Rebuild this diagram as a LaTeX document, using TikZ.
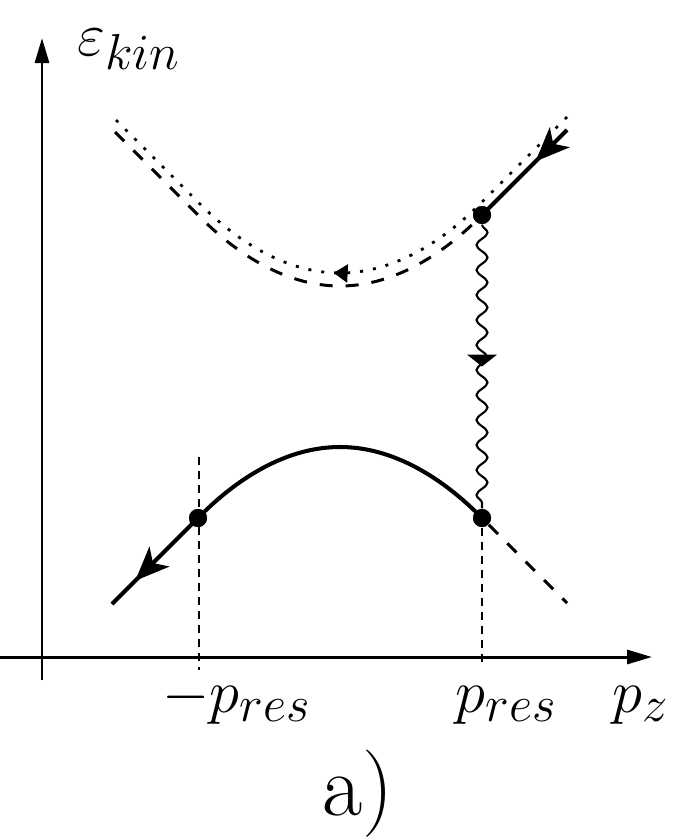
\documentclass[tikz,border=0pt]{standalone}
\DeclareMathSizes{17.28}{17.28}{14.4}{10}
\usetikzlibrary{arrows.meta,decorations.pathmorphing,decorations.markings}
\begin{document}
\begin{tikzpicture}[
  x=1cm,
  y=-1cm,
  axis/.style={line width=0.85pt, -{Triangle[length=0.25cm, width=0.14cm]}},
  band/.style={line width=1.15pt},
  shifted/.style={line width=0.85pt, dash pattern=on 0.13cm off 0.13cm},
  virtual/.style={line width=0.8pt, dash pattern=on 0.03cm off 0.10cm},
  guide/.style={line width=0.4pt, dash pattern=on 0.08cm off 0.06cm},
  photon/.style={line width=0.6pt, decorate, decoration={snake, amplitude=0.055cm, segment length=0.25cm}},
  vertex/.style={circle, fill=black, inner sep=0pt, minimum size=0.18cm},
  flow/.style={postaction={decorate}, decoration={markings, mark=at position #1 with {\arrow{Stealth[length=0.34cm, width=0.28cm, inset=0.09cm]}}}},
  smallflow/.style={postaction={decorate}, decoration={markings, mark=at position #1 with {\arrow{Triangle[length=0.14cm, width=0.18cm]}}}},
  wideflow/.style={postaction={decorate}, decoration={markings, mark=at position #1 with {\arrow{Triangle[length=0.12cm, width=0.30cm]}}}},
  lab/.style={anchor=base west, inner sep=0pt, font=\LARGE}
]
\useasboundingbox (0,0) rectangle (6.99,8.40);

\coordinate (ybot) at (0.42,6.80);
\coordinate (ytop) at (0.42,0.38);
\coordinate (xleft) at (0,6.57);
\coordinate (xright) at (6.52,6.57);
\draw[axis] (ybot) -- (ytop);
\draw[axis] (xleft) -- (xright);

\coordinate (ue) at (5.67,1.30);
\coordinate (us) at (1.15,1.32);
\coordinate (le) at (1.12,6.04);
\coordinate (re) at (5.67,6.03);
\coordinate (gtop) at (1.99,4.57);
\coordinate (gbot) at (1.99,6.70);
\coordinate (gend) at (4.82,6.65);
\node[vertex] (pu) at (4.82,2.15) {};
\node[vertex] (pl) at (1.98,5.18) {};
\node[vertex] (pr) at (4.82,5.18) {};

\draw[guide] (gtop) -- (gbot);
\draw[guide] (pr) -- (gend);

\draw[shifted] (us) -- (1.98,2.15) parabola bend (3.40,2.86) (pu.center);
\draw[virtual, smallflow=0.51] (5.67,1.17) -- (4.82,2.02) parabola bend (3.40,2.73) (1.98,2.02) -- (1.12,1.16);
\draw[band, flow=0.37] (ue) -- (pu.center);

\draw[band] (pl.center) parabola bend (3.40,4.47) (pr.center);
\draw[band, flow=0.73] (pl.center) -- (le);
\draw[shifted] (pr) -- (re);

\draw[photon] (pu) -- (pr);
\path[wideflow=0.5] (pu) -- (pr);

\node[vertex] at (pu) {};
\node[vertex] at (pl) {};
\node[vertex] at (pr) {};

\node[lab] (elab) at (0.77,0.55) {$\varepsilon_{kin}$};
\node[lab] (mlab) at (1.62,7.12) {$-p_{res}$};
\node[lab] (plab) at (4.55,7.12) {$p_{res}$};
\node[lab] (zlab) at (6.12,7.12) {$p_z$};
\node[anchor=base, inner sep=0pt, font=\Huge] (cap) at (3.58,8.15) {a)};
\end{tikzpicture}
\end{document}
